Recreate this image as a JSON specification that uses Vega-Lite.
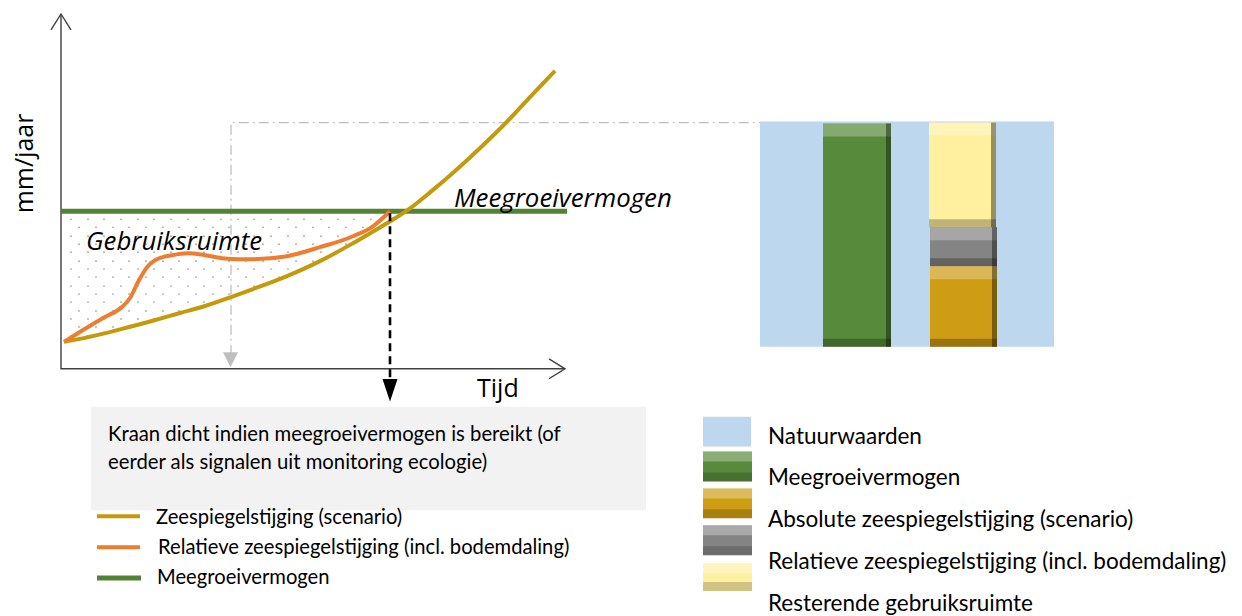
{
  "$schema": "https://vega.github.io/schema/vega-lite/v6.json",
  "width": 1242,
  "height": 616,
  "autosize": {"type": "fit", "contains": "padding"},
  "padding": 0,
  "background": "white",
  "config": {"view": {"stroke": null}},
  "datasets": {
    "blokken": [
      {"naam": "Toelichting", "rol": "kader", "x": 91, "x2": 646, "y": 408, "y2": 512},
      {"naam": "Natuurwaarden", "rol": "paneel", "x": 760, "x2": 1054, "y": 122, "y2": 348},
      {"naam": "Meegroeivermogen", "rol": "staaf", "x": 823, "x2": 891, "y": 124, "y2": 348},
      {"naam": "Resterende gebruiksruimte", "rol": "staaf", "x": 929, "x2": 996, "y": 123, "y2": 228},
      {"naam": "Relatieve zeespiegelstijging (incl. bodemdaling)", "rol": "staaf", "x": 930, "x2": 997, "y": 228, "y2": 267},
      {"naam": "Absolute zeespiegelstijging (scenario)", "rol": "staaf", "x": 930, "x2": 997, "y": 267, "y2": 348},
      {"naam": "Natuurwaarden", "rol": "symbool", "x": 703, "x2": 751, "y": 418, "y2": 448},
      {"naam": "Meegroeivermogen", "rol": "legenda", "x": 703, "x2": 752, "y": 453, "y2": 483},
      {"naam": "Absolute zeespiegelstijging (scenario)", "rol": "legenda", "x": 703, "x2": 752, "y": 490, "y2": 520},
      {"naam": "Relatieve zeespiegelstijging (incl. bodemdaling)", "rol": "legenda", "x": 703, "x2": 752, "y": 527, "y2": 557},
      {"naam": "Resterende gebruiksruimte", "rol": "legenda", "x": 703, "x2": 752, "y": 565, "y2": 593}
    ],
    "stippen": [
      {"y": 220, "x": [71, 88, 104, 121, 138, 154, 171, 188, 204, 221, 238, 254, 271, 288, 304, 321, 338, 354, 371]},
      {"y": 228, "x": [79, 96, 113, 129, 146, 163, 179, 196, 213, 229, 246, 263, 279, 296, 313, 329, 346, 363, 379]},
      {"y": 237, "x": [71, 88, 104, 121, 138, 154, 171, 188, 204, 221, 238, 254, 271, 288, 304, 321, 338, 354, 371]},
      {"y": 245, "x": [79, 96, 113, 129, 146, 163, 179, 196, 213, 229, 246, 263, 279, 296, 313, 329, 346, 363, 379]},
      {"y": 253, "x": [71, 88, 104, 121, 138, 154, 171, 188, 204, 221, 238, 254, 271, 288, 304, 321, 338, 354, 371]},
      {"y": 262, "x": [79, 96, 113, 129, 146, 163, 179, 196, 213, 229, 246, 263, 279, 296, 313, 329, 346, 363, 379]},
      {"y": 270, "x": [71, 88, 104, 121, 138, 154, 171, 188, 204, 221, 238, 254, 271, 288, 304, 321, 338, 354, 371]},
      {"y": 278, "x": [79, 96, 113, 129, 146, 163, 179, 196, 213, 229, 246, 263, 279, 296, 313, 329, 346, 363, 379]},
      {"y": 287, "x": [71, 88, 104, 121, 138, 154, 171, 188, 204, 221, 238, 254, 271, 288, 304, 321, 338, 354, 371]},
      {"y": 295, "x": [79, 96, 113, 129, 146, 163, 179, 196, 213, 229, 246, 263, 279, 296, 313, 329, 346, 363, 379]},
      {"y": 303, "x": [71, 88, 104, 121, 138, 154, 171, 188, 204, 221, 238, 254, 271, 288, 304, 321, 338, 354, 371]},
      {"y": 312, "x": [79, 96, 113, 129, 146, 163, 179, 196, 213, 229, 246, 263, 279, 296, 313, 329, 346, 363, 379]},
      {"y": 320, "x": [71, 88, 104, 121, 138, 154, 171, 188, 204, 221, 238, 254, 271, 288, 304, 321, 338, 354, 371]},
      {"y": 328, "x": [79, 96, 113, 129, 146, 163, 179, 196, 213, 229, 246, 263, 279, 296, 313, 329, 346, 363, 379]},
      {"y": 337, "x": [71, 88, 104, 121, 138, 154, 171, 188, 204, 221, 238, 254, 271, 288, 304, 321, 338, 354, 371]}
    ],
    "reeksen": [
      {"reeks": "Meegroeivermogen", "deel": "grafiek", "x": 61, "y": 212},
      {"reeks": "Meegroeivermogen", "deel": "grafiek", "x": 567, "y": 212},
      {"reeks": "Meegroeivermogen", "deel": "legenda", "x": 97, "y": 580},
      {"reeks": "Meegroeivermogen", "deel": "legenda", "x": 141, "y": 580},
      {"reeks": "Zeespiegelstijging (scenario)", "deel": "grafiek", "x": 64, "y": 343},
      {"reeks": "Zeespiegelstijging (scenario)", "deel": "grafiek", "x": 80, "y": 340},
      {"reeks": "Zeespiegelstijging (scenario)", "deel": "grafiek", "x": 100, "y": 335.5},
      {"reeks": "Zeespiegelstijging (scenario)", "deel": "grafiek", "x": 122, "y": 330},
      {"reeks": "Zeespiegelstijging (scenario)", "deel": "grafiek", "x": 150, "y": 322.5},
      {"reeks": "Zeespiegelstijging (scenario)", "deel": "grafiek", "x": 180, "y": 314},
      {"reeks": "Zeespiegelstijging (scenario)", "deel": "grafiek", "x": 205, "y": 307},
      {"reeks": "Zeespiegelstijging (scenario)", "deel": "grafiek", "x": 235, "y": 296.5},
      {"reeks": "Zeespiegelstijging (scenario)", "deel": "grafiek", "x": 253, "y": 290},
      {"reeks": "Zeespiegelstijging (scenario)", "deel": "grafiek", "x": 287, "y": 277},
      {"reeks": "Zeespiegelstijging (scenario)", "deel": "grafiek", "x": 320, "y": 262},
      {"reeks": "Zeespiegelstijging (scenario)", "deel": "grafiek", "x": 353, "y": 244},
      {"reeks": "Zeespiegelstijging (scenario)", "deel": "grafiek", "x": 377, "y": 230},
      {"reeks": "Zeespiegelstijging (scenario)", "deel": "grafiek", "x": 395, "y": 219},
      {"reeks": "Zeespiegelstijging (scenario)", "deel": "grafiek", "x": 410, "y": 209},
      {"reeks": "Zeespiegelstijging (scenario)", "deel": "grafiek", "x": 430, "y": 193},
      {"reeks": "Zeespiegelstijging (scenario)", "deel": "grafiek", "x": 450, "y": 176},
      {"reeks": "Zeespiegelstijging (scenario)", "deel": "grafiek", "x": 470, "y": 158},
      {"reeks": "Zeespiegelstijging (scenario)", "deel": "grafiek", "x": 490, "y": 139},
      {"reeks": "Zeespiegelstijging (scenario)", "deel": "grafiek", "x": 510, "y": 119},
      {"reeks": "Zeespiegelstijging (scenario)", "deel": "grafiek", "x": 530, "y": 97.5},
      {"reeks": "Zeespiegelstijging (scenario)", "deel": "grafiek", "x": 555, "y": 71},
      {"reeks": "Zeespiegelstijging (scenario)", "deel": "legenda", "x": 97, "y": 518},
      {"reeks": "Zeespiegelstijging (scenario)", "deel": "legenda", "x": 140, "y": 518},
      {"reeks": "Relatieve zeespiegelstijging (incl. bodemdaling)", "deel": "grafiek", "x": 64, "y": 343},
      {"reeks": "Relatieve zeespiegelstijging (incl. bodemdaling)", "deel": "grafiek", "x": 88, "y": 328},
      {"reeks": "Relatieve zeespiegelstijging (incl. bodemdaling)", "deel": "grafiek", "x": 105, "y": 318},
      {"reeks": "Relatieve zeespiegelstijging (incl. bodemdaling)", "deel": "grafiek", "x": 122, "y": 308},
      {"reeks": "Relatieve zeespiegelstijging (incl. bodemdaling)", "deel": "grafiek", "x": 130, "y": 299},
      {"reeks": "Relatieve zeespiegelstijging (incl. bodemdaling)", "deel": "grafiek", "x": 138, "y": 283},
      {"reeks": "Relatieve zeespiegelstijging (incl. bodemdaling)", "deel": "grafiek", "x": 147, "y": 268},
      {"reeks": "Relatieve zeespiegelstijging (incl. bodemdaling)", "deel": "grafiek", "x": 155, "y": 261},
      {"reeks": "Relatieve zeespiegelstijging (incl. bodemdaling)", "deel": "grafiek", "x": 172, "y": 256},
      {"reeks": "Relatieve zeespiegelstijging (incl. bodemdaling)", "deel": "grafiek", "x": 188, "y": 254},
      {"reeks": "Relatieve zeespiegelstijging (incl. bodemdaling)", "deel": "grafiek", "x": 205, "y": 256},
      {"reeks": "Relatieve zeespiegelstijging (incl. bodemdaling)", "deel": "grafiek", "x": 222, "y": 259},
      {"reeks": "Relatieve zeespiegelstijging (incl. bodemdaling)", "deel": "grafiek", "x": 240, "y": 260},
      {"reeks": "Relatieve zeespiegelstijging (incl. bodemdaling)", "deel": "grafiek", "x": 253, "y": 260},
      {"reeks": "Relatieve zeespiegelstijging (incl. bodemdaling)", "deel": "grafiek", "x": 287, "y": 257},
      {"reeks": "Relatieve zeespiegelstijging (incl. bodemdaling)", "deel": "grafiek", "x": 320, "y": 248},
      {"reeks": "Relatieve zeespiegelstijging (incl. bodemdaling)", "deel": "grafiek", "x": 353, "y": 237},
      {"reeks": "Relatieve zeespiegelstijging (incl. bodemdaling)", "deel": "grafiek", "x": 373, "y": 227},
      {"reeks": "Relatieve zeespiegelstijging (incl. bodemdaling)", "deel": "grafiek", "x": 390, "y": 212},
      {"reeks": "Relatieve zeespiegelstijging (incl. bodemdaling)", "deel": "legenda", "x": 97, "y": 549},
      {"reeks": "Relatieve zeespiegelstijging (incl. bodemdaling)", "deel": "legenda", "x": 140, "y": 549}
    ],
    "hulplijnen": [
      {"soort": "hulp", "deel": "kader", "i": 1, "x": 231, "y": 356},
      {"soort": "hulp", "deel": "kader", "i": 2, "x": 231, "y": 123},
      {"soort": "hulp", "deel": "kader", "i": 3, "x": 760, "y": 123},
      {"soort": "kraan", "deel": "moment", "i": 1, "x": 390, "y": 214},
      {"soort": "kraan", "deel": "moment", "i": 2, "x": 390, "y": 384},
      {"soort": "as", "deel": "yas", "i": 1, "x": 61, "y": 14},
      {"soort": "as", "deel": "yas", "i": 2, "x": 61, "y": 370},
      {"soort": "as", "deel": "yas", "i": 3, "x": 565, "y": 370},
      {"soort": "as", "deel": "ypijl", "i": 1, "x": 51, "y": 30},
      {"soort": "as", "deel": "ypijl", "i": 2, "x": 61, "y": 14},
      {"soort": "as", "deel": "ypijl", "i": 3, "x": 71, "y": 30},
      {"soort": "as", "deel": "xpijl", "i": 1, "x": 549, "y": 360},
      {"soort": "as", "deel": "xpijl", "i": 2, "x": 565, "y": 370},
      {"soort": "as", "deel": "xpijl", "i": 3, "x": 549, "y": 380}
    ],
    "pijlpunten": [
      {"soort": "hulp", "x": 230.5, "y": 361},
      {"soort": "kraan", "x": 390, "y": 391.5}
    ],
    "teksten": [
      {"tekst": "Tijd", "groep": "as", "x": 477, "y": 390},
      {"tekst": "mm/jaar", "groep": "asrot", "x": 32.5, "y": 164},
      {"tekst": "Gebruiksruimte", "groep": "annotatie", "x": 86, "y": 243},
      {"tekst": "Meegroeivermogen", "groep": "annotatie", "x": 454, "y": 200},
      {"tekst": "Kraan dicht indien meegroeivermogen is bereikt (of", "groep": "toelichting", "x": 108, "y": 436},
      {"tekst": "eerder als signalen uit monitoring ecologie)", "groep": "toelichting", "x": 108, "y": 465},
      {"tekst": "Zeespiegelstijging (scenario)", "groep": "legenda links", "x": 156, "y": 520},
      {"tekst": "Relatieve zeespiegelstijging (incl. bodemdaling)", "groep": "legenda links", "x": 158, "y": 550},
      {"tekst": "Meegroeivermogen", "groep": "legenda links", "x": 157, "y": 580},
      {"tekst": "Natuurwaarden", "groep": "legenda rechts", "x": 768, "y": 438},
      {"tekst": "Meegroeivermogen", "groep": "legenda rechts", "x": 768, "y": 480},
      {"tekst": "Absolute zeespiegelstijging (scenario)", "groep": "legenda rechts", "x": 768, "y": 522},
      {"tekst": "Relatieve zeespiegelstijging (incl. bodemdaling)", "groep": "legenda rechts", "x": 768, "y": 564},
      {"tekst": "Resterende gebruiksruimte", "groep": "legenda rechts", "x": 768, "y": 606}
    ]
  },
  "encoding": {
    "x": {"field": "x", "type": "quantitative", "axis": null, "scale": {"domain": [0, 1242], "nice": false, "zero": false}},
    "y": {"field": "y", "type": "quantitative", "axis": null, "scale": {"domain": [0, 616], "reverse": true, "nice": false, "zero": false}}
  },
  "layer": [
    {
      "data": {"name": "blokken"},
      "mark": {"type": "rect"},
      "encoding": {
        "x2": {"field": "x2"},
        "y2": {"field": "y2"},
        "color": {
          "field": "naam", "type": "nominal", "legend": null,
          "scale": {
            "domain": ["Toelichting", "Natuurwaarden", "Meegroeivermogen", "Absolute zeespiegelstijging (scenario)", "Relatieve zeespiegelstijging (incl. bodemdaling)", "Resterende gebruiksruimte"],
            "range": ["#F2F2F2", "#BDD7EE", "#578A3A", "#CE9D14", "#848484", "#FFF0A0"]
          }
        }
      }
    },
    {
      "data": {"name": "blokken"},
      "transform": [{"filter": "datum.rol == 'staaf'"}],
      "mark": {"type": "rect", "color": "white", "opacity": 0.28, "y2Offset": 13},
      "encoding": {"x2": {"field": "x2"}, "y2": {"field": "y"}}
    },
    {
      "data": {"name": "blokken"},
      "transform": [{"filter": "datum.rol == 'staaf'"}],
      "mark": {"type": "rect", "color": "black", "opacity": 0.25, "yOffset": -8},
      "encoding": {"y": {"field": "y2"}, "x2": {"field": "x2"}, "y2": {"field": "y2"}}
    },
    {
      "data": {"name": "blokken"},
      "transform": [{"filter": "datum.rol == 'staaf'"}],
      "mark": {"type": "rect", "color": "black", "opacity": 0.4, "xOffset": -5},
      "encoding": {"x": {"field": "x2"}, "x2": {"field": "x2"}, "y2": {"field": "y2"}}
    },
    {
      "data": {"name": "blokken"},
      "transform": [{"filter": "datum.rol == 'legenda'"}],
      "mark": {"type": "rect", "color": "white", "opacity": 0.3, "y2Offset": 10},
      "encoding": {"x2": {"field": "x2"}, "y2": {"field": "y"}}
    },
    {
      "data": {"name": "blokken"},
      "transform": [{"filter": "datum.rol == 'legenda'"}],
      "mark": {"type": "rect", "color": "black", "opacity": 0.18, "yOffset": -9},
      "encoding": {"y": {"field": "y2"}, "x2": {"field": "x2"}, "y2": {"field": "y2"}}
    },
    {
      "data": {"name": "stippen"},
      "transform": [{"flatten": ["x"]}],
      "mark": {"type": "point", "shape": "circle", "filled": true, "size": 3, "color": "#A0A0A0", "opacity": 1}
    },
    {
      "data": {"name": "reeksen"},
      "transform": [{"filter": "datum.reeks == 'Zeespiegelstijging (scenario)' && datum.deel == 'grafiek' && datum.x <= 410"}],
      "mark": {"type": "area", "color": "white", "interpolate": "monotone", "opacity": 1},
      "encoding": {"y2": {"datum": 368}}
    },
    {
      "data": {"name": "hulplijnen"},
      "transform": [{"filter": "datum.soort == 'hulp'"}],
      "mark": {"type": "line", "color": "#BFBFBF", "strokeWidth": 1.3, "strokeDash": [10, 4, 2, 4]},
      "encoding": {"detail": {"field": "deel"}, "order": {"field": "i"}}
    },
    {
      "data": {"name": "pijlpunten"},
      "transform": [{"filter": "datum.soort == 'hulp'"}],
      "mark": {"type": "point", "shape": "M-1,-1L1,-1L0,1Z", "filled": true, "size": 225, "color": "#BFBFBF", "opacity": 1}
    },
    {
      "data": {"name": "hulplijnen"},
      "transform": [{"filter": "datum.soort == 'as'"}],
      "mark": {"type": "line", "color": "#404040", "strokeWidth": 1.4},
      "encoding": {"detail": {"field": "deel"}, "order": {"field": "i"}}
    },
    {
      "data": {"name": "reeksen"},
      "transform": [{"filter": "datum.reeks == 'Meegroeivermogen'"}],
      "mark": {"type": "line", "color": "#548235", "strokeWidth": 5, "strokeCap": "butt"},
      "encoding": {"detail": {"field": "deel"}}
    },
    {
      "data": {"name": "reeksen"},
      "transform": [{"filter": "datum.reeks == 'Zeespiegelstijging (scenario)'"}],
      "mark": {"type": "line", "color": "#C49A0C", "strokeWidth": 4, "interpolate": "monotone", "strokeCap": "butt"},
      "encoding": {"detail": {"field": "deel"}}
    },
    {
      "data": {"name": "reeksen"},
      "transform": [{"filter": "datum.reeks == 'Relatieve zeespiegelstijging (incl. bodemdaling)'"}],
      "mark": {"type": "line", "color": "#ED7D31", "strokeWidth": 4, "interpolate": "monotone", "strokeCap": "butt"},
      "encoding": {"detail": {"field": "deel"}}
    },
    {
      "data": {"name": "hulplijnen"},
      "transform": [{"filter": "datum.soort == 'kraan'"}],
      "mark": {"type": "line", "color": "black", "strokeWidth": 2.6, "strokeDash": [8, 5]},
      "encoding": {"detail": {"field": "deel"}, "order": {"field": "i"}}
    },
    {
      "data": {"name": "pijlpunten"},
      "transform": [{"filter": "datum.soort == 'kraan'"}],
      "mark": {"type": "point", "shape": "M-1,-1.5L1,-1.5L0,1.5Z", "filled": true, "size": 225, "color": "black", "opacity": 1}
    },
    {
      "data": {"name": "teksten"},
      "transform": [{"filter": "datum.groep == 'as'"}],
      "mark": {"type": "text", "font": "Open Sans", "fontSize": 25, "align": "left", "baseline": "middle", "color": "black"},
      "encoding": {"text": {"field": "tekst"}}
    },
    {
      "data": {"name": "teksten"},
      "transform": [{"filter": "datum.groep == 'asrot'"}],
      "mark": {"type": "text", "font": "Open Sans", "fontSize": 25, "align": "center", "baseline": "alphabetic", "angle": 270, "color": "black"},
      "encoding": {"text": {"field": "tekst"}}
    },
    {
      "data": {"name": "teksten"},
      "transform": [{"filter": "datum.groep == 'annotatie'"}],
      "mark": {"type": "text", "font": "Open Sans", "fontSize": 25.8, "fontStyle": "italic", "align": "left", "baseline": "middle", "color": "black"},
      "encoding": {"text": {"field": "tekst"}}
    },
    {
      "data": {"name": "teksten"},
      "transform": [{"filter": "datum.groep == 'toelichting'"}],
      "mark": {"type": "text", "font": "Lato", "fontSize": 20.3, "align": "left", "baseline": "middle", "color": "black"},
      "encoding": {"text": {"field": "tekst"}}
    },
    {
      "data": {"name": "teksten"},
      "transform": [{"filter": "datum.groep == 'legenda rechts'"}],
      "mark": {"type": "text", "font": "Lato", "fontSize": 22.5, "align": "left", "baseline": "middle", "color": "black"},
      "encoding": {"text": {"field": "tekst"}}
    },
    {
      "data": {"name": "teksten"},
      "transform": [{"filter": "datum.groep == 'legenda links'"}],
      "mark": {"type": "text", "font": "Lato", "fontSize": 20.2, "align": "left", "baseline": "middle", "color": "black"},
      "encoding": {"text": {"field": "tekst"}}
    }
  ]
}
